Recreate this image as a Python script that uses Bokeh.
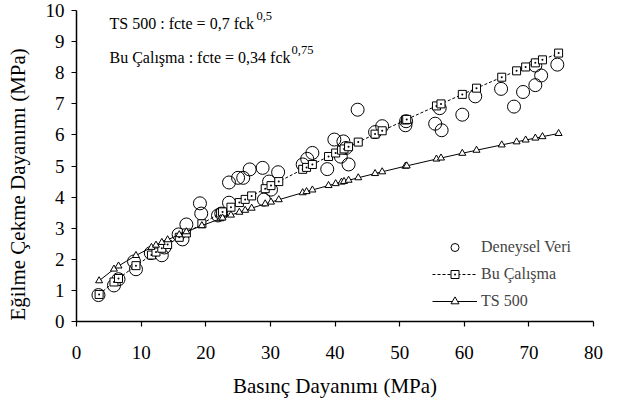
from bokeh.plotting import figure
from bokeh.models import Label, Legend, LegendItem, Range1d, FixedTicker
from bokeh.embed import file_html
from bokeh.resources import INLINE

# Experimental data (Deneysel Veri)
exp_fck = [3.4, 5.8, 6.5, 8.9, 9.2, 11.5, 13.2, 13.6, 15.8, 16.4, 17.0, 19.1, 19.3,
           21.9, 22.4, 23.6, 23.6, 25.0, 25.8, 26.8, 28.8, 29.0, 29.8, 30.1, 31.2,
           35.0, 35.7, 36.5, 38.8, 39.9, 40.9, 41.3, 41.7, 42.1, 43.5, 46.2, 47.3,
           50.9, 51.0, 55.5, 56.2, 56.5, 59.7, 61.7, 65.7, 67.7, 69.1, 71.0, 71.0,
           71.9, 74.4]
exp_fct = [0.85, 1.16, 1.36, 1.93, 1.68, 2.20, 2.13, 2.38, 2.80, 2.64, 3.12, 3.80, 3.47,
           3.41, 3.47, 3.82, 4.47, 4.62, 4.62, 4.89, 4.94, 3.92, 4.50, 4.24, 4.80,
           5.05, 5.23, 5.42, 4.90, 5.85, 5.30, 5.79, 5.58, 5.05, 6.81, 6.09, 6.28,
           6.31, 6.44, 6.36, 6.86, 6.15, 6.65, 7.24, 7.48, 6.91, 7.38, 8.23, 7.60,
           7.91, 8.26]

# Model points
mod_fck = [3.5, 5.8, 6.5, 9.2, 11.6, 12.3, 13.2, 14.1, 15.9, 17.0, 19.4, 22.3, 22.6,
           23.9, 25.2, 26.1, 27.1, 29.2, 30.1, 31.3, 35.0, 35.6, 36.5, 39.0, 40.1,
           41.0, 41.4, 42.1, 43.6, 46.2, 47.3, 50.9, 51.1, 55.7, 56.4, 59.7, 61.9,
           65.8, 68.1, 69.5, 71.0, 72.1, 74.6]
# Bu Calisma: 0.34 fck^0.75
bu_fct = [0.870, 1.271, 1.384, 1.796, 2.137, 2.233, 2.355, 2.474, 2.707, 2.846, 3.143,
          3.489, 3.524, 3.675, 3.824, 3.926, 4.038, 4.271, 4.369, 4.499, 4.893, 4.955,
          5.049, 5.306, 5.418, 5.509, 5.549, 5.620, 5.769, 6.025, 6.132, 6.479, 6.498,
          6.932, 6.997, 7.303, 7.503, 7.855, 8.060, 8.184, 8.316, 8.413, 8.631]
# TS 500: 0.7 fck^0.5
ts_fct = [1.310, 1.686, 1.785, 2.123, 2.384, 2.455, 2.543, 2.629, 2.791, 2.886, 3.083,
          3.306, 3.328, 3.422, 3.514, 3.576, 3.644, 3.783, 3.840, 3.916, 4.141, 4.177,
          4.229, 4.372, 4.433, 4.482, 4.504, 4.542, 4.622, 4.758, 4.814, 4.994, 5.004,
          5.224, 5.257, 5.409, 5.507, 5.678, 5.777, 5.836, 5.898, 5.944, 6.046]

x_ticks = [0, 10, 20, 30, 40, 50, 60, 70, 80]
y_ticks = [0, 1, 2, 3, 4, 5, 6, 7, 8, 9, 10]

FONT = "'Liberation Serif'"

p = figure(width=609, height=402, output_backend="svg", toolbar_location=None,
           x_range=Range1d(0, 80), y_range=Range1d(0, 10),
           min_border_left=76, min_border_right=16, min_border_top=10, min_border_bottom=81)
p.outline_line_color = None
p.grid.grid_line_color = None
p.background_fill_color = "white"

for ax in (p.xaxis[0], p.yaxis[0]):
    ax.major_label_text_font = FONT
    ax.major_label_text_font_size = "19px"
    ax.major_label_text_color = "black"
    ax.axis_label_text_font = FONT
    ax.axis_label_text_font_size = "21px"
    ax.axis_label_text_font_style = "normal"
    ax.axis_label_text_color = "black"
    ax.axis_line_color = "black"
    ax.axis_line_width = 1.5
    ax.major_tick_line_color = "black"
    ax.major_tick_line_width = 1.2
    ax.major_tick_out = 5
    ax.major_tick_in = 0
    ax.minor_tick_line_color = None

p.xaxis.ticker = FixedTicker(ticks=x_ticks)
p.yaxis.ticker = FixedTicker(ticks=y_ticks)
p.xaxis.axis_label = "Basınç Dayanımı (MPa)"
p.yaxis.axis_label = "Eğilme Çekme Dayanımı (MPa)" + "\u00a0" * 7
p.xaxis.major_label_standoff = 19
p.xaxis.axis_label_standoff = 12
p.yaxis.major_label_standoff = 7
p.yaxis.axis_label_standoff = 13

r_exp = p.scatter(exp_fck, exp_fct, marker="circle", size=13, fill_color=None,
                  line_color="black", line_width=1)
r_bu_line = p.line(mod_fck, bu_fct, line_color="black", line_width=1, line_dash="3 2")
r_bu_pts = p.scatter(mod_fck, bu_fct, marker="square_dot", size=8, fill_color="white",
                     line_color="black", line_width=1)
r_ts_line = p.line(mod_fck, ts_fct, line_color="black", line_width=1)
r_ts_pts = p.scatter(mod_fck, ts_fct, marker="triangle", size=7, fill_color="white",
                     line_color="black", line_width=1)

legend = Legend(items=[
    LegendItem(label="Deneysel Veri", renderers=[r_exp]),
    LegendItem(label="Bu Çalışma", renderers=[r_bu_line, r_bu_pts]),
    LegendItem(label="TS 500", renderers=[r_ts_line, r_ts_pts]),
], location=(356, 10))
legend.label_text_font = FONT
legend.label_text_font_size = "16px"
legend.glyph_width = 45
legend.glyph_height = 20
legend.label_height = 20
legend.spacing = 7
legend.label_standoff = 4
legend.padding = 0
legend.margin = 0
legend.border_line_color = None
legend.background_fill_alpha = 0
p.add_layout(legend, "center")

def add_label(x, y, text, size):
    p.add_layout(Label(x=x, y=y, text=text, text_font=FONT, text_font_size=size,
                       text_color="black", text_baseline="alphabetic"))

add_label(5.11, 9.598, "TS 500 : fcte = 0,7 fck", "16px")
add_label(27.85, 9.823, "0,5", "12.5px")
add_label(5.11, 8.473, "Bu Çalışma : fcte = 0,34 fck", "16px")
add_label(33.27, 8.714, "0,75", "12.5px")

open("out.html", "w").write(file_html(p, INLINE))
